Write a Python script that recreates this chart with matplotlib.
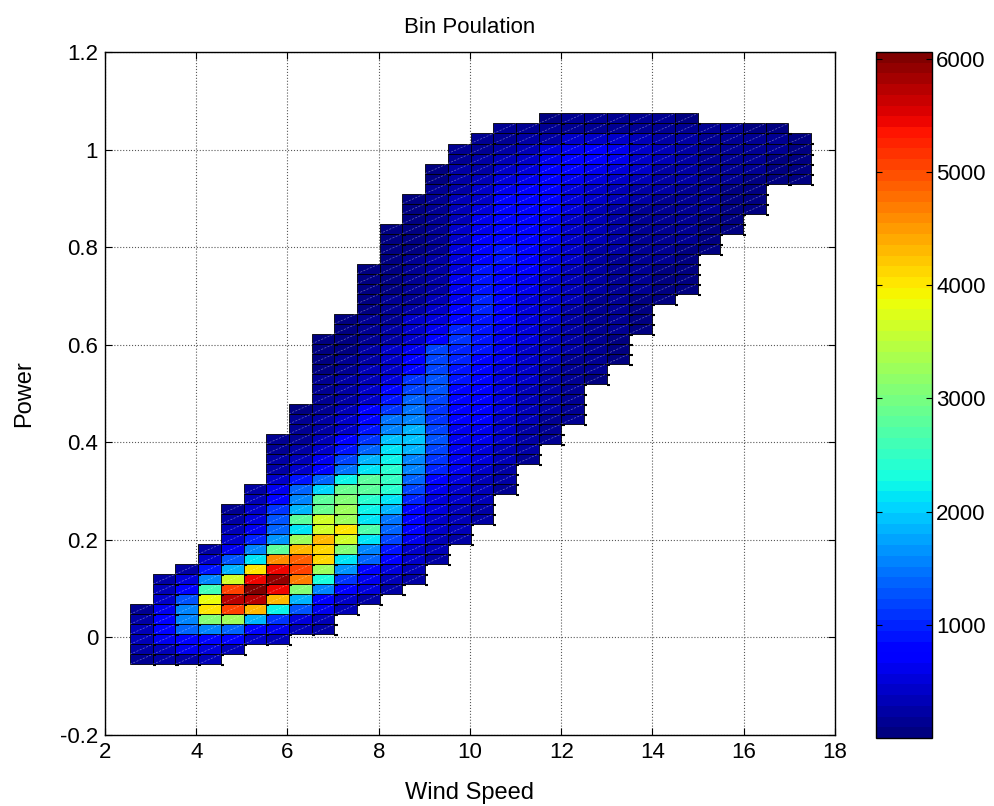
import numpy as np
import matplotlib
matplotlib.use('Agg')
import matplotlib.pyplot as plt
from matplotlib.collections import PatchCollection, LineCollection
from matplotlib.patches import Rectangle
from matplotlib.colors import Normalize

plt.rcParams['font.family'] = ['Liberation Sans', 'DejaVu Sans']

# histogram grid: 30 wind speed bins, 55 power bins
wind_edges = np.linspace(2.55, 17.475, 31)
power_edges = np.linspace(-0.055, 1.074, 56)

# first populated power bin of every wind speed column
first_bin = [0, 0, 0, 0, 1, 2, 2, 3, 3, 5, 6, 7, 8, 10, 12,
             14, 17, 20, 22, 24, 28, 30, 33, 36, 37, 41, 43, 45, 48, 48]

# bin population of every wind speed column, from the bottom up
col_counts = [
    [150, 250, 350, 300, 250, 150],
    [200, 350, 650, 800, 750, 650, 450, 300, 200],
    [250, 600, 850, 1400, 1550, 1600, 1250, 800, 500, 250],
    [300, 500, 800, 1550, 3050, 4000, 3850, 2600, 1600, 900, 450, 250],
    [350, 750, 1400, 3250, 5050, 5750, 5050, 3650, 1850, 1250, 600, 400, 300, 200, 150],
    [450, 800, 1850, 4300, 5750, 6050, 5450, 4000, 2150, 1550, 950, 650, 500, 400, 300, 200],
    [350, 650, 1100, 2200, 4300, 5450, 5950, 5450, 4600, 2750, 1700, 1400, 1250, 1100, 800,
     600, 450, 250, 200, 150, 100],
    [350, 500, 1250, 1850, 3050, 4700, 5050, 4900, 4300, 3250, 2150, 2750, 1850, 1550, 1400,
     900, 450, 350, 250, 150, 120, 100, 80],
    [250, 350, 650, 750, 1550, 2300, 3250, 4150, 4150, 4300, 3650, 3650, 2900, 2750, 2000,
     1400, 800, 600, 450, 350, 270, 200, 150, 120, 100, 100, 80, 80, 70, 60],
    [300, 400, 750, 1100, 1700, 2150, 3050, 3650, 4000, 3250, 3250, 3050, 2900, 2200, 1500,
     1200, 900, 670, 470, 400, 330, 270, 200, 200, 130, 100, 90, 80, 70, 60],
    [250, 500, 650, 800, 1400, 1550, 2150, 2700, 2100, 2200, 2450, 2750, 2750, 2150, 1800,
     1360, 1060, 900, 780, 670, 470, 400, 333, 333, 267, 200, 130, 100, 100, 80,
     70, 60, 50, 40],
    [250, 350, 500, 750, 900, 1200, 1400, 1500, 1800, 2100, 2450, 2500, 2450, 2200, 2100,
     1900, 1600, 1440, 1060, 900, 800, 533, 467, 400, 400, 267, 200, 130, 100, 100,
     90, 80, 70, 60, 50, 40, 30],
    [250, 300, 450, 450, 600, 700, 700, 800, 1000, 1200, 1400, 1550, 1600, 1800, 1970,
     1820, 1550, 1500, 1360, 1210, 1060, 780, 670, 600, 467, 400, 400, 267, 150, 130,
     120, 110, 100, 90, 80, 70, 60, 50, 40],
    [250, 300, 350, 400, 450, 500, 550, 650, 800, 950, 1060, 1140, 1290, 1210, 1100,
     1100, 1210, 1290, 1290, 1210, 1210, 1140, 800, 650, 550, 470, 333, 280, 250, 220,
     200, 180, 160, 150, 140, 120, 110, 100, 80, 60],
    [250, 300, 300, 350, 400, 450, 550, 650, 650, 620, 600, 650, 700, 750, 780,
     820, 860, 900, 950, 1000, 1060, 950, 800, 700, 620, 600, 580, 560, 520, 480,
     450, 400, 350, 330, 300, 280, 250, 200, 170, 130],
    [200, 250, 300, 300, 350, 450, 500, 550, 600, 650, 680, 700, 720, 750, 780,
     800, 850, 880, 900, 920, 940, 950, 950, 900, 880, 860, 820, 780, 720, 650,
     580, 500, 430, 380, 320, 270, 200, 130, 100],
    [150, 200, 250, 300, 350, 400, 420, 450, 480, 500, 520, 540, 560, 580, 600,
     620, 650, 680, 720, 760, 800, 820, 840, 860, 860, 850, 840, 820, 800, 770,
     650, 520, 420, 330, 200, 130, 100],
    [150, 200, 250, 280, 300, 320, 350, 370, 400, 420, 440, 460, 480, 500, 520,
     540, 560, 600, 640, 680, 720, 760, 800, 820, 830, 830, 820, 720, 620, 560,
     470, 350, 200, 120],
    [120, 150, 170, 200, 220, 240, 260, 280, 300, 320, 340, 360, 380, 400, 420,
     450, 470, 490, 520, 550, 580, 610, 640, 670, 700, 690, 670, 670, 620, 480,
     280, 130, 90],
    [100, 120, 130, 140, 150, 170, 180, 200, 210, 230, 250, 270, 290, 320, 340,
     360, 380, 400, 420, 440, 460, 480, 500, 540, 600, 670, 680, 620, 400, 150, 110],
    [90, 100, 110, 120, 130, 140, 150, 170, 180, 200, 220, 240, 260, 280, 300,
     320, 340, 360, 380, 400, 530, 600, 700, 690, 470, 170, 120],
    [70, 80, 90, 100, 110, 120, 130, 150, 160, 170, 180, 200, 220, 240, 260,
     280, 300, 330, 400, 530, 600, 620, 400, 160, 120],
    [60, 70, 80, 90, 100, 110, 120, 130, 140, 150, 160, 170, 180, 200, 270,
     330, 400, 470, 470, 330, 150, 110],
    [60, 70, 80, 90, 100, 110, 120, 130, 140, 150, 160, 200, 270, 270, 330, 330, 270, 130, 100],
    [50, 60, 70, 80, 90, 100, 110, 120, 130, 140, 130, 200, 200, 270, 200, 200, 120, 80],
    [60, 70, 80, 90, 100, 110, 110, 130, 130, 130, 130, 130, 110],
    [50, 60, 70, 80, 90, 110, 120, 120, 120, 120, 100],
    [50, 60, 70, 90, 100, 110, 110, 110, 90],
    [70, 80, 90, 100, 100, 80],
    [60, 70, 80, 90, 80],
]

cbar_ticks = [1000, 2000, 3000, 4000, 5000, 6000]

fig = plt.figure(figsize=(9.95, 8.06), dpi=100)
ax = fig.add_axes([105 / 995, 1 - 735 / 806, 730 / 995, 683 / 806])

rects, vals, diag, nubs = [], [], [], []
for c, counts in enumerate(col_counts):
    x0, x1 = wind_edges[c], wind_edges[c + 1]
    for k, v in enumerate(counts):
        r = first_bin[c] + k
        y0, y1 = power_edges[r], power_edges[r + 1]
        rects.append(Rectangle((x0, y0), x1 - x0, y1 - y0))
        vals.append(v)
        diag.append([(x0, y0), (x1, y1)])
        nubs.append([(x1, y0 - 0.002), (x1 + 0.07, y0 - 0.002)])

cmap = plt.get_cmap('jet', 64)
pc = PatchCollection(rects, cmap=cmap, norm=Normalize(1, 6060),
                     edgecolor='black', linewidth=0.6, zorder=2)
pc.set_array(np.array(vals))
ax.add_collection(pc)
ax.add_collection(LineCollection(diag, colors='white', alpha=0.4,
                                 linewidths=0.5, linestyles=(0, (3, 2)), zorder=3))
ax.add_collection(LineCollection(nubs, colors='black', linewidths=1.5, zorder=3))

ax.set_xlim(2, 18)
ax.set_ylim(-0.2, 1.2)
ax.set_xticks(np.arange(2, 19, 2))
ax.set_yticks(np.round(np.arange(-0.2, 1.21, 0.2), 1))
ax.set_yticklabels(['-0.2', '0', '0.2', '0.4', '0.6', '0.8', '1', '1.2'])
ax.set_axisbelow(True)
ax.grid(True, linestyle=':', color='0.35', linewidth=0.8)
ax.tick_params(direction='in', top=True, right=True, length=5, labelsize=16, pad=5)
for s in ax.spines.values():
    s.set_linewidth(1.0)

ax.set_title('Bin Poulation', fontsize=16, pad=14)
ax.set_xlabel('Wind Speed', fontsize=17, labelpad=14)
ax.set_ylabel('Power', fontsize=17, labelpad=18)

cax = fig.add_axes([876 / 995, 1 - 738 / 806, 56 / 995, 686 / 806])
cb = fig.colorbar(pc, cax=cax, ticks=cbar_ticks)
cb.ax.tick_params(direction='in', left=True, right=True, length=4, labelsize=16, pad=3)
cb.outline.set_linewidth(1.0)

fig.savefig('out.png', dpi=100)
